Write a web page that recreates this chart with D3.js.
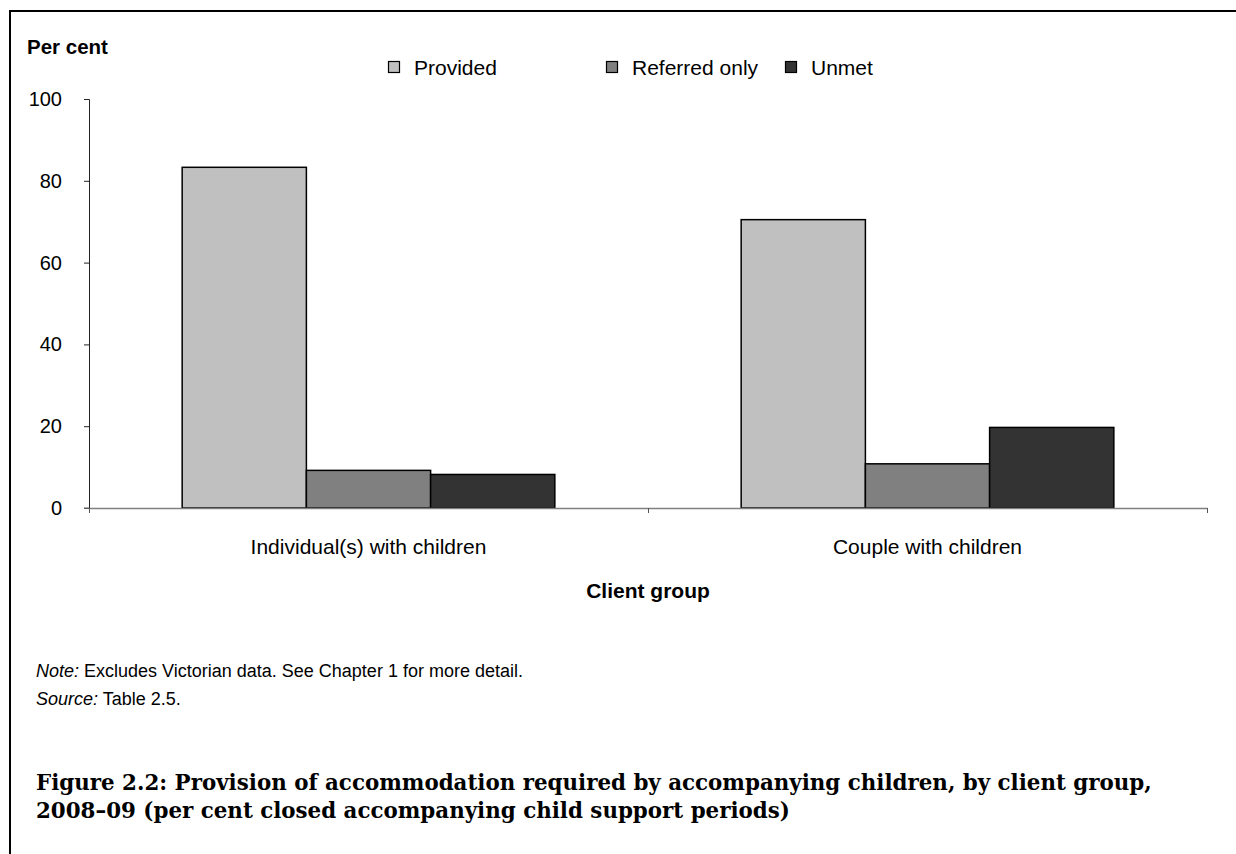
<!DOCTYPE html>
<html>
<head>
<meta charset="utf-8">
<script src="https://cdn.jsdelivr.net/npm/d3@7"></script>
<style>
  html, body { margin: 0; padding: 0; background: #ffffff; }
  svg { display: block; }
  text { font-family: "Liberation Sans", Arial, sans-serif; fill: #000; }
</style>
</head>
<body>
<svg id="chart" width="1236" height="854"></svg>
<script>
// ---- data ----
const categories = ["Individual(s) with children", "Couple with children"];
const seriesNames = ["Provided", "Referred only", "Unmet"];
const provided = [83.3, 70.5];
const referredOnly = [9.2, 10.8];
const unmet = [8.2, 19.7];
const yTicks = [0, 20, 40, 60, 80, 100];
const seriesColors = ["#c0c0c0", "#808080", "#333333"];

const values = [provided, referredOnly, unmet];

const svg = d3.select("#chart");
const W = 1236, H = 854;

// frame (top + left)
svg.append("path")
  .attr("d", `M10,${H} L10,11 L${W},11`)
  .attr("fill", "none").attr("stroke", "#000").attr("stroke-width", 2);

const x0 = d3.scaleBand().domain(categories).range([89, 1207]).paddingInner(0).paddingOuter(0);
const x1 = d3.scaleBand().domain(seriesNames).range([0, x0.bandwidth()]).paddingInner(0).paddingOuter(0.75);
const y = d3.scaleLinear().domain([0, 100]).range([508, 99]);

// bars
const g = svg.append("g");
categories.forEach((c, ci) => {
  seriesNames.forEach((s, si) => {
    const v = values[si][ci];
    g.append("rect")
      .attr("x", x0(c) + x1(s))
      .attr("y", y(v))
      .attr("width", x1.bandwidth())
      .attr("height", y(0) - y(v))
      .attr("fill", seriesColors[si])
      .attr("stroke", "#000")
      .attr("stroke-width", 1.5);
  });
});

// y axis
const yAxis = d3.axisLeft(y).tickValues(yTicks).tickSize(5).tickPadding(22).tickFormat(d3.format("d"));
const yg = svg.append("g").attr("transform", "translate(89,0)").call(yAxis);
yg.select(".domain").attr("stroke", "#222").attr("stroke-width", 1);
yg.selectAll(".tick line").attr("stroke", "#222");
yg.selectAll(".tick text").style("font-size", "20px").style("font-family", "'Liberation Sans', Arial, sans-serif").attr("fill", "#000");

// x axis (line + category boundary ticks)
const xScaleLin = d3.scaleLinear().domain([0, categories.length]).range(x0.range());
const xAxis = d3.axisBottom(xScaleLin).tickValues(d3.range(categories.length + 1)).tickSize(5).tickFormat("").tickSizeOuter(0);
const xg = svg.append("g").attr("transform", `translate(0,${y(0)})`).call(xAxis);
xg.select(".domain").attr("stroke", "#808080").attr("stroke-width", 1.3);
xg.selectAll(".tick line").attr("stroke", "#555");
svg.append("line").attr("x1", 84).attr("x2", 89).attr("y1", y(0)).attr("y2", y(0)).attr("stroke", "#808080").attr("stroke-width", 1.3);

// category labels
categories.forEach(c => {
  svg.append("text")
    .attr("x", x0(c) + x0.bandwidth() / 2)
    .attr("y", 554)
    .attr("text-anchor", "middle")
    .style("font-size", "21px")
    .text(c);
});

// axis titles
svg.append("text").attr("x", 27).attr("y", 54)
  .style("font-size", "20.5px").style("font-weight", "bold").text("Per cent");
svg.append("text").attr("x", (x0.range()[0] + x0.range()[1]) / 2).attr("y", 598)
  .attr("text-anchor", "middle")
  .style("font-size", "21px").style("font-weight", "bold").text("Client group");

// legend
const legendX = [388, 606, 785];
seriesNames.forEach((s, i) => {
  svg.append("rect").attr("x", legendX[i] + 0.5).attr("y", 61.5).attr("width", 11).attr("height", 11)
    .attr("fill", seriesColors[i]).attr("stroke", "#000").attr("stroke-width", 1.2);
  svg.append("text").attr("x", legendX[i] + 26).attr("y", 75)
    .style("font-size", "21px").text(s);
});

// notes
const note = svg.append("text").attr("x", 36).attr("y", 677).style("font-size", "18px");
note.append("tspan").style("font-style", "italic").text("Note:");
note.append("tspan").text(" Excludes Victorian data. See Chapter 1 for more detail.");
const src = svg.append("text").attr("x", 36).attr("y", 705).style("font-size", "18px");
src.append("tspan").style("font-style", "italic").text("Source:");
src.append("tspan").text(" Table 2.5.");

// figure title
const titleLines = [
  "Figure 2.2: Provision of accommodation required by accompanying children, by client group,",
  "2008\u201309 (per cent closed accompanying child support periods)"
];
const titleFont = "'DejaVu Serif', 'Liberation Serif', serif";
const t1 = svg.append("text").attr("x", 36).attr("y", 790)
  .style("font-family", titleFont)
  .style("font-weight", "bold").style("font-size", "21px").text(titleLines[0]);
const w1 = t1.node().getComputedTextLength();
const fs = Math.min(23, 21 * (1152 - 36) / w1);
t1.style("font-size", fs + "px");
svg.append("text").attr("x", 36).attr("y", 790 + 28)
  .style("font-family", titleFont)
  .style("font-weight", "bold").style("font-size", fs + "px").text(titleLines[1]);
</script>
</body>
</html>
